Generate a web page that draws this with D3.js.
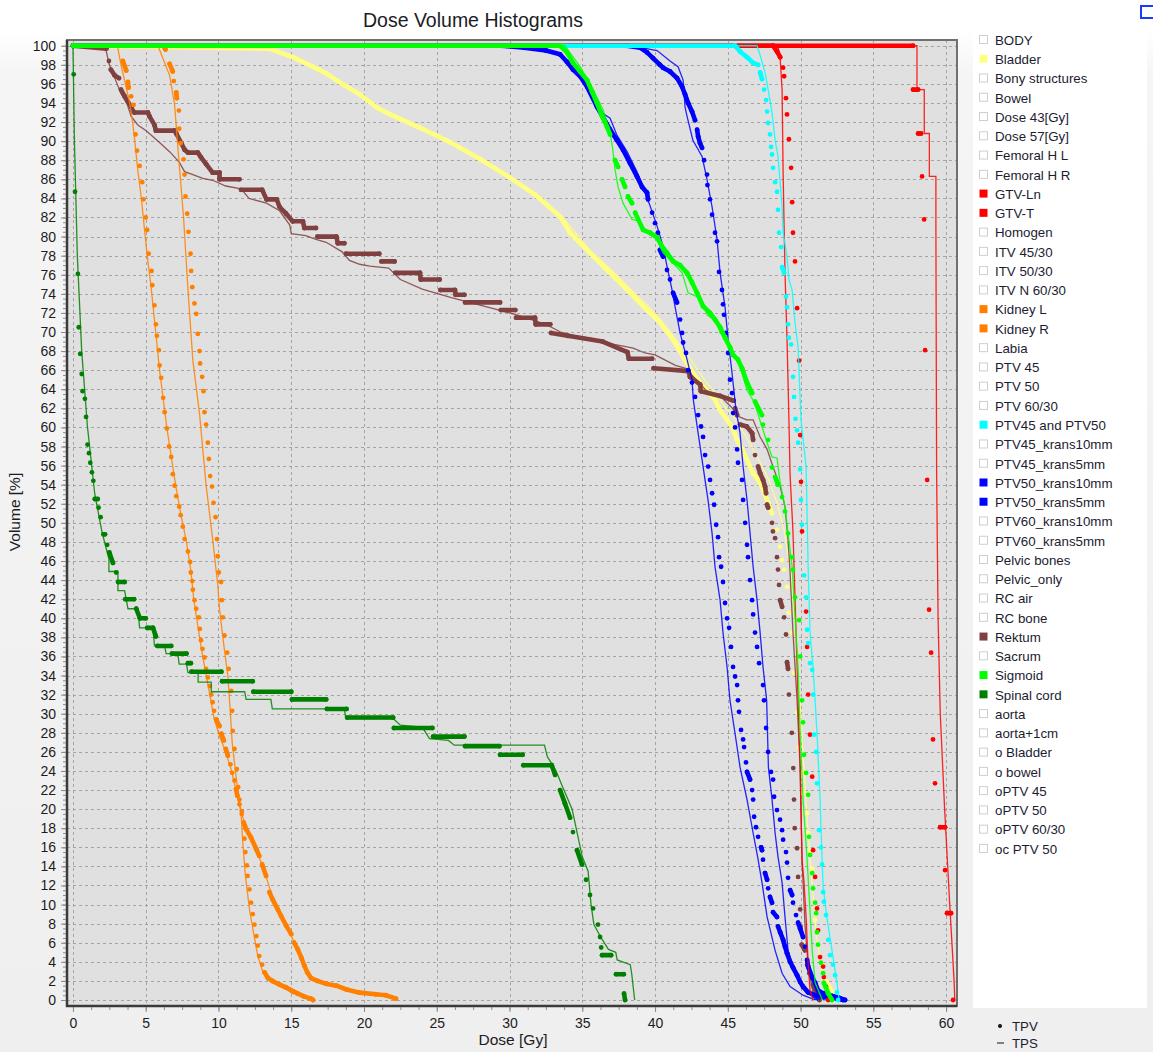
<!DOCTYPE html>
<html>
<head>
<meta charset="utf-8">
<script src="https://cdn.jsdelivr.net/npm/d3@7"></script>
<style>
body { margin: 0; background: #f0f0f0; }
svg { display: block; font-family: "Liberation Sans", Arial, sans-serif; }
</style>
</head>
<body>
<div id="graph"></div>
<script>
// dose [Gy], volume [%] pairs
// TPV = dots, TPS = thin line
var bladderTPV = [[0,100],[13.5,99.7],[15.1,98.8],[16.5,97.8],[17.4,97.1],[18.6,95.9],[19.7,94.9],[20.9,93.5],[21.8,92.8],[23.85,91.4],[25.9,89.9],[28,88.1],[30,86.2],[31.75,84.4],[33.47,82.1],[34.16,80.4],[35.53,78.3],[36.9,76.2],[38.3,74.1],[39.45,72.3],[40.34,71],[41.24,69.2],[41.93,67.4],[42.6,65.7],[43.3,64.3],[44.12,62.9],[44.47,61.8],[44.95,60.8],[45.3,60],[45.64,58.7],[45.98,57.7],[46.32,56.6],[46.74,55.2],[47.22,54.2],[47.7,52.4],[48.04,51],[48.38,49.3],[48.6,47.5],[48.73,46.1],[48.87,45.1],[49.07,43.3],[49.2,40.6],[49.4,38.5],[49.55,34.3],[49.76,30.1],[49.9,26.5],[50.1,23.8],[50.17,21.7],[50.45,19.6],[50.52,17.5],[50.65,15.6],[50.8,13.8],[51.0,8.4],[51.2,5.8],[51.5,3.7],[51.8,1.9],[52.2,0.7],[52.23,0]];
var bladderTPS = [[0,100],[13,100],[15,99],[17,97.6],[19,95.6],[21,93.6],[22,92.8],[24,91.3],[26,89.8],[28,88.1],[30,86.2],[32,84.2],[33.5,82.3],[35.5,78.6],[37,76.5],[38.5,74.2],[40,72],[41.3,69.5],[42.5,67],[43.5,64.8],[44.5,62.8],[45.4,61],[46.2,59.2],[47,57],[47.8,54.6],[48.4,52],[48.9,49],[49.3,45],[49.6,40],[49.9,33],[50.2,25],[50.5,18],[50.8,12],[51.1,6.5],[51.5,3],[52,0.8],[52.3,0]];

var rektumTPV = [[0,100],[2.3,99.7],[2.47,98.4],[2.6,97.5],[2.86,96.9],[3.16,96.6],[3.3,95.4],[3.55,94.7],[3.78,94.1],[4.0,93.6],[4.1,93.2],[4.23,93],[5.15,93],[5.26,92.6],[5.6,91.7],[5.7,91.1],[6.98,91.1],[7.1,90.8],[7.44,89.8],[7.67,89.1],[7.9,88.8],[8.58,88.8],[8.8,88.3],[9.15,87.6],[9.6,86.7],[10.07,86.7],[10.07,86.0],[11.44,86.0],[11.55,84.9],[13.0,84.9],[13.3,83.9],[14.0,83.9],[14.2,83.1],[14.65,82.4],[15.1,81.6],[15.8,81.6],[15.9,80.9],[16.7,80.9],[16.8,80.0],[18.1,80.0],[18.2,79.3],[18.65,79.3],[18.76,78.2],[21.05,78.2],[21.2,77.4],[22.1,77.4],[22.15,76.2],[23.85,76.2],[23.9,75.5],[25.2,75.5],[25.25,74.4],[26.25,74.4],[26.3,73.9],[26.9,73.9],[26.95,73.1],[29.35,73.1],[29.4,72.3],[30.4,72.3],[30.45,71.5],[31.75,71.5],[31.8,70.8],[32.8,70.8],[32.85,69.9],[34.0,69.6],[36.4,69.0],[38.1,67.9],[38.2,67.2],[39.8,67.2],[39.9,66.2],[42.3,65.9],[42.4,65.3],[43.1,64.5],[43.15,63.8],[44.47,63.3],[45.4,62.8],[45.5,62.0],[45.64,61.3],[45.84,60.3],[46.3,60.1],[46.67,59.4],[46.74,58.7],[46.87,57.1],[47.08,55.9],[47.22,55.2],[47.42,54.5],[47.56,53.8],[47.63,53.1],[47.7,51.9],[47.77,51.6],[48.04,50],[48.1,49.1],[48.25,48.4],[48.38,46.4],[48.45,45.1],[48.52,43.5],[48.6,41.9],[48.73,41.2],[48.87,40.1],[49.0,38.3],[49.07,35.4],[49.14,34.7],[49.2,32],[49.4,28],[49.5,24.3],[49.55,21],[49.6,18],[49.76,15.9],[49.83,12.9],[49.97,9.5],[50.0,7.7],[50.08,5.8],[50.3,5.2],[50.45,3.7],[50.6,2.8],[50.86,1.6],[51.2,0.3],[51.3,0]];
var rektumTPS = [[0,100],[2.2,100],[2.5,98],[2.9,96.5],[3.3,95],[3.7,94],[4.0,92.6],[4.46,91.7],[5.03,91.1],[5.7,90.2],[6.64,88.9],[7.3,87.8],[7.67,86.8],[8.24,86.5],[8.92,86.1],[9.6,85.9],[10.5,85.3],[11.55,85.0],[12.1,84.0],[13.3,83.5],[14.2,82.7],[14.9,81.2],[15.0,80.3],[16.0,80.1],[16.7,79.7],[17.4,79.4],[18.5,78.4],[19.0,77.5],[19.7,77.1],[20.4,76.9],[21.7,76.7],[22.5,75.5],[24,74.5],[26,73.6],[28.5,72.6],[30.5,71.8],[32.5,70.8],[33.5,70],[34.5,69.6],[35.7,69.3],[37.2,68.7],[38.5,68.3],[39.3,67.8],[40.0,67.6],[41.4,66.5],[42.1,66.2],[42.4,65.7],[43.5,63.9],[44.6,63.1],[45.2,62.2],[45.8,61.1],[46.3,60.8],[46.74,60.8],[47.22,59],[47.7,57.7],[48.1,55.9],[48.6,53.8],[48.93,51.7],[49.14,48.2],[49.28,44.8],[49.48,38.5],[49.76,31.4],[49.97,24.4],[50.1,14.7],[50.3,8],[50.5,4],[50.75,1.5],[51.0,0]];

var kidneyLTPV = [[0,100],[3.2,100],[3.43,98.4],[3.66,97.4],[3.78,96.2],[3.82,95.6],[4.0,94.7],[4.16,93.8],[4.3,90.7],[4.4,89],[4.58,87.4],[4.76,85.7],[4.85,83.9],[5.0,82],[5.1,80.7],[5.2,78.2],[5.4,76.4],[5.45,74.9],[5.6,72.8],[5.7,70.8],[5.77,69.6],[5.9,68.1],[5.95,66.5],[6.06,65.2],[6.2,63.1],[6.3,61.6],[6.45,59.9],[6.6,58],[6.75,56.9],[6.86,55.1],[6.98,53.9],[7.1,52.8],[7.3,51.7],[7.4,50.8],[7.55,49.6],[7.67,48.3],[7.9,47],[8.05,45.9],[8.1,44.8],[8.2,43.9],[8.24,43],[8.35,41.9],[8.47,41],[8.65,40.1],[8.72,38.9],[8.8,37.7],[8.9,36.8],[9.04,35.9],[9.15,34.7],[9.27,33.8],[9.4,32.9],[9.5,32],[9.6,31.2],[9.7,30.3],[9.84,29.4],[10.07,28.7],[10.2,27.9],[10.37,27.2],[10.5,26.3],[10.64,25.6],[10.82,24.7],[10.94,23.8],[11.1,23],[11.2,22.1],[11.3,21.4],[11.44,20.5],[11.6,19.5],[11.8,18.3],[11.9,17.9],[12.24,17],[12.6,15.8],[12.8,15.1],[13.0,14.2],[13.27,13.0],[13.5,11.3],[13.7,10.6],[14.07,9.5],[14.3,8.8],[14.65,7.8],[15.0,6.9],[15.2,6.0],[15.45,5.3],[15.7,4.4],[15.9,3.6],[16.1,2.9],[16.36,2.3],[16.8,2.0],[17.4,1.7],[18.1,1.5],[18.8,1.1],[19.7,0.77],[20.8,0.6],[21.5,0.5],[22.2,0.14]];
var kidneyLTPS = [[0,100],[3.05,100],[3.3,98],[3.6,96],[3.9,94],[4.1,92],[4.25,90],[4.45,87],[4.7,84],[4.9,81],[5.1,78],[5.35,75],[5.55,72],[5.75,69],[5.95,66],[6.2,63],[6.45,60],[6.75,57],[7.05,54],[7.4,51],[7.8,48],[8.1,45],[8.3,42],[8.55,39.5],[8.8,37],[9.1,34.5],[9.4,32],[9.7,29.5],[10.1,27.5],[10.5,26],[10.9,24],[11.2,22],[11.5,20],[11.8,18.5],[12.3,16.8],[12.7,15.3],[13.1,13.8],[13.5,11.8],[13.9,10],[14.4,8.5],[14.9,7],[15.4,5.5],[15.8,4],[16.2,2.7],[16.6,2.1],[17.5,1.6],[18.5,1.2],[19.7,0.8],[21,0.55],[22.1,0.1]];

var kidneyRTPV = [[0,100],[6.2,100],[6.36,99.6],[6.64,98.1],[6.86,97.3],[6.93,96.3],[7.1,95.1],[7.14,94.5],[7.28,93.2],[7.3,91.3],[7.4,89.8],[7.6,88.1],[7.67,86.5],[7.73,84.2],[7.85,82.4],[7.94,80.5],[8.08,78.2],[8.12,76.4],[8.2,74.7],[8.35,73],[8.47,71.9],[8.58,69.8],[8.7,68],[8.74,66.7],[8.88,65.3],[8.97,63.8],[9.04,61.6],[9.15,60.3],[9.27,58.4],[9.34,56.7],[9.43,54.9],[9.56,53.8],[9.66,52.1],[9.8,50.6],[9.9,48.3],[9.95,46.5],[10.02,44.8],[10.18,43.8],[10.23,41.9],[10.3,40.1],[10.41,38.2],[10.6,36.4],[10.7,34.7],[10.87,32.4],[10.94,30.3],[10.98,28.2],[11.1,26.3],[11.26,24.2],[11.35,22.3],[11.44,21.0],[11.6,19.8],[11.74,18.6],[11.78,16.9],[11.85,15.5],[11.95,14.1],[12.0,13.0],[12.13,11.6],[12.24,10.2],[12.36,9.0],[12.47,7.9],[12.6,6.7],[12.7,5.7],[12.8,4.6],[13.0,3.7],[13.16,2.9],[13.4,2.3],[13.7,2.0],[14.2,1.6],[14.65,1.3],[15.1,0.9],[15.45,0.66],[15.9,0.35],[16.36,0.14],[16.5,0]];
var kidneyRTPS = [[0,100],[5.84,100],[6.64,96.9],[6.98,93.9],[7.2,89.5],[7.6,82],[7.9,74.5],[8.24,67],[8.7,61.4],[9.15,53.9],[9.6,48.3],[9.95,43.5],[10.07,41],[10.34,37.5],[10.64,34],[10.8,30.5],[10.94,27],[11.2,23.5],[11.55,19.6],[11.67,16.5],[11.85,13],[12.13,9.5],[12.4,7.1],[12.7,4.6],[13.04,3.0],[13.5,2.2],[14.65,1.5],[15.56,0.77],[16.48,0.07]];

var spinalTPV = [[0,100],[0.05,97],[0.14,84.7],[0.34,76.1],[0.4,70.5],[0.5,67.7],[0.6,65.6],[0.66,63.8],[0.82,63],[0.9,61.1],[1.0,58.2],[1.1,57.3],[1.19,56.3],[1.3,55.3],[1.4,54.4],[1.5,52.5],[1.7,52.5],[1.76,51.6],[1.9,50.6],[2.1,48.8],[2.2,48.8],[2.35,47.7],[2.5,46.9],[2.75,45.8],[2.97,44.8],[3.1,43.8],[3.55,43.8],[3.6,42],[4.2,42],[4.35,41],[4.6,40],[5.0,40],[5.1,39],[5.5,39],[5.7,38.1],[5.8,37.1],[6.75,37.1],[6.8,36.3],[7.8,36.3],[7.9,35.3],[8.1,35.3],[8.15,34.4],[10.2,34.4],[10.25,33.4],[12.35,33.4],[12.4,32.3],[15.0,32.3],[15.05,31.5],[17.4,31.5],[17.45,30.5],[18.8,30.5],[18.85,29.6],[22.0,29.6],[22.05,28.5],[24.7,28.5],[24.75,27.6],[26.9,27.6],[26.95,26.6],[29.3,26.6],[29.35,25.7],[30.9,25.7],[30.95,24.6],[32.9,24.6],[33.13,23.6],[33.47,22],[33.81,20.6],[34.16,19.1],[34.36,17.6],[34.64,15.7],[34.98,14.2],[35.26,12.6],[35.53,11],[35.74,9.6],[36.08,7.9],[36.22,6.6],[36.3,5.5],[36.36,4.7],[36.98,4.7],[37.32,2.7],[37.85,2.7],[37.87,0.67],[37.94,0]];
var spinalTPS = [[0,100],[0.1,90],[0.3,78],[0.6,68],[1.0,60],[1.5,53],[2.0,49],[2.47,46.2],[2.47,44.9],[3.09,44.9],[3.09,42.9],[3.55,42.9],[3.78,41],[4.46,41],[4.58,39],[5.5,39],[5.6,37.1],[6.3,37.1],[6.4,36.3],[7.2,36.3],[7.3,35.2],[7.8,35.2],[7.9,34.3],[8.6,34.3],[8.6,33.3],[9.5,33.3],[9.5,32.3],[11.8,32.3],[11.9,31.5],[13.6,31.5],[13.7,30.5],[18.65,30.5],[18.75,29.5],[22,29.5],[22.5,28.8],[24,28.6],[24.5,27.4],[25.8,27.2],[26.2,26.7],[32.4,26.7],[32.6,25.5],[33.2,24],[33.6,22.5],[34.3,20],[35.0,15],[35.4,13.5],[35.6,10],[35.8,7.9],[36.3,6.5],[36.8,5.3],[37.3,5.0],[37.4,4.2],[38.3,3.7],[38.4,2.7],[38.6,0]];

var ptv50k10TPV = [[0,100],[29.5,100],[31,99.8],[32.5,99.5],[33.47,99.1],[33.95,98.3],[34.36,97.5],[34.85,96.8],[35.33,95.7],[36.01,93.6],[36.43,92.5],[36.91,91.2],[37.39,90.1],[37.8,89.1],[38.28,87.7],[38.76,86.3],[39.11,85.2],[39.45,84.6],[39.52,83.9],[39.8,82.5],[40.0,81.4],[40.2,80.4],[40.34,78.6],[40.55,77.9],[40.82,76.5],[41.03,75.5],[41.24,74.1],[41.51,73.1],[41.72,71.3],[41.86,69.9],[41.93,68.9],[42.13,67.8],[42.27,66],[42.54,64.7],[42.75,63.2],[42.96,61.3],[43.16,60.1],[43.3,59],[43.44,57.1],[43.65,55.9],[43.78,54.5],[43.92,53.1],[44.06,51.9],[44.2,49.8],[44.33,48.5],[44.4,46.4],[44.54,45.4],[44.67,43.8],[44.81,41.6],[44.95,40],[45.09,39],[45.22,37],[45.36,34.9],[45.5,33.9],[45.64,33],[45.7,31.4],[45.77,30.2],[45.91,28.3],[46.05,27.3],[46.12,26.5],[46.25,24.9],[46.32,23.9],[46.53,23.1],[46.67,22],[46.74,21],[46.81,19.2],[46.94,18.1],[47.08,17.1],[47.29,16],[47.35,15.7],[47.42,14.7],[47.56,13.3],[47.7,12.6],[47.77,11.7],[47.9,10.8],[48.04,10.2],[48.11,9.2],[48.38,8.7],[48.45,7.7],[48.6,7.1],[48.8,6.3],[48.93,5.6],[49.07,4.9],[49.28,4],[49.48,3.4],[49.76,2.6],[49.97,1.9],[50.17,1.4],[50.52,0.8],[51.0,0.5],[51.55,0.3],[52.23,0.2],[52.92,0]];
var ptv50k10TPS = [[0,100],[29,100],[31,99.8],[33,99.4],[34.85,97.3],[35.74,94.8],[36.43,92.9],[36.91,92.4],[37.39,90.6],[38.08,88.9],[38.76,86.8],[39.18,85.2],[39.66,83.2],[40.14,81.1],[40.55,79],[40.82,76.9],[41.17,74.4],[41.38,72.6],[41.72,69.9],[42.2,67.1],[42.54,65],[42.63,62.9],[42.96,59.4],[43.3,55.9],[43.64,52.4],[43.92,48.9],[44.12,45.4],[44.47,41.9],[44.67,38.5],[44.95,34.9],[45.15,31.4],[45.5,27.9],[45.84,24.4],[46.32,21],[46.74,17.5],[47.05,15],[47.35,12.3],[47.7,8.7],[48.25,5.2],[48.73,2.8],[49.28,1.4],[50.17,0.5],[50.86,0.1],[51.2,0]];

var ptv50k5TPV = [[0,100],[38.08,100],[38.97,99.8],[39.45,99.3],[39.86,98.7],[40.34,98],[40.55,97.7],[41.03,97.3],[41.51,96.6],[41.86,95.7],[42.06,94.9],[42.27,94],[42.54,93.1],[42.75,92.2],[42.89,91.2],[42.96,90.5],[43.09,89.8],[43.23,89.3],[43.37,88],[43.57,86.5],[43.6,85.4],[43.78,83.9],[43.92,82.3],[44.12,80.4],[44.26,79.5],[44.4,76.3],[44.6,74.4],[44.67,72.9],[44.74,71.8],[44.88,69.9],[45.02,67.8],[45.15,65],[45.29,63.6],[45.36,61.5],[45.5,60],[45.64,57.7],[45.7,56.3],[45.98,54.5],[46.05,52.4],[46.19,50],[46.32,47.7],[46.39,46.4],[46.53,44],[46.67,41.9],[46.74,40.4],[46.87,38.5],[47.01,37],[47.15,35.3],[47.42,33],[47.49,31.4],[47.63,28.5],[47.77,26],[47.97,23.9],[48.11,23.1],[48.18,21.3],[48.38,19.9],[48.59,18.9],[48.73,17.8],[48.8,16.8],[49.0,15.5],[49.07,14.4],[49.14,12.8],[49.28,11.5],[49.42,11],[49.48,10.2],[49.69,8.9],[49.83,8.1],[49.97,7.5],[50.17,6.6],[50.31,5.6],[50.45,4.2],[50.52,3.5],[50.79,2.4],[51.0,1.8],[51.2,1],[51.55,0.7],[52.23,0.4],[52.7,0.2],[53.06,0]];
var ptv50k5TPS = [[0,100],[38.3,100],[40.14,99.5],[41.03,98.4],[41.58,97.8],[41.93,96.4],[42.06,93.6],[42.2,92.6],[42.6,90.1],[43.23,88.4],[43.57,86],[43.92,83.1],[44.26,79.7],[44.47,76.2],[44.81,72.6],[45.02,69.2],[45.29,65.7],[45.55,62],[45.84,59.4],[46.05,55.9],[46.32,52.4],[46.53,48.9],[46.74,45.4],[47.01,41.9],[47.22,38.5],[47.42,34.9],[47.67,31.4],[47.79,24.4],[48.04,21],[48.25,17.5],[48.45,15],[48.73,12.3],[48.93,8.7],[49.14,5.2],[49.62,2.8],[50.17,1.4],[50.86,0.3],[51.34,0]];

var gtvLnTPV = [[0,100],[48.11,100],[48.38,99.4],[48.6,98.8],[48.8,97.7],[48.87,96.8],[49.0,94.5],[49.07,92.8],[49.2,90.2],[49.35,87.2],[49.42,83.6],[49.48,80.4],[49.62,77.4],[49.76,72.5],[49.9,67],[49.97,59.2],[50.03,54.3],[50.1,49.1],[50.38,40.7],[50.45,37],[50.52,32],[50.65,27.8],[50.8,23.4],[50.86,15.7],[51.0,12.9],[51.13,9.6],[51.2,7.3],[51.34,4.5],[51.55,3.5],[51.6,2.4],[51.75,1.4],[51.9,0]];
var gtvLnTPS = [[0,100],[48.45,100],[48.6,98.6],[48.73,95.4],[48.8,86.7],[48.93,76.2],[49.07,69.2],[49.2,60.8],[49.28,55],[49.48,49],[49.76,35],[49.97,24.4],[50.1,14.7],[50.24,12.3],[50.38,8.7],[50.52,3.9],[50.65,1],[50.86,0]];

var gtvTTPV = [[0,100],[57.73,100],[57.73,95.4],[58.08,95.4],[58.08,90.8],[58.28,90.8],[58.35,86.3],[58.49,81.8],[58.56,68.1],[58.7,54.5],[58.83,40.9],[58.97,36.4],[59.1,27.3],[59.24,22.7],[59.59,18.1],[59.93,18.1],[59.93,13.6],[60.07,9.1],[60.34,9.1],[60.48,0]];
var gtvTTPS = [[0,100],[58.0,100],[58.0,95.4],[58.5,95.4],[58.5,90.8],[58.85,90.8],[58.85,86.3],[59.3,86.3],[59.3,80.7],[59.35,55],[59.45,40],[59.6,30],[59.9,20],[60.25,10],[60.55,2],[60.6,0]];

var ptv4550TPV = [[0,100],[45.5,100],[45.84,99.4],[46.32,98.8],[46.74,98.2],[47.08,98],[47.22,97.2],[47.35,96.5],[47.49,95.4],[47.63,94.3],[47.7,93.1],[47.77,91.9],[47.9,90.7],[47.97,89.4],[48.04,88.6],[48.11,87.2],[48.25,85.7],[48.38,84.7],[48.45,82.8],[48.52,80.4],[48.66,78.9],[48.73,76.8],[48.87,76.2],[49.0,73.7],[49.07,72.6],[49.14,70.8],[49.2,69.4],[49.35,68.7],[49.48,65.3],[49.55,63.2],[49.65,60.9],[49.76,59.7],[49.83,58.4],[49.97,55.6],[50.03,52.4],[50.1,49.8],[50.24,44.5],[50.38,42.2],[50.45,38.8],[50.52,37.4],[50.65,35.3],[50.8,34.6],[50.86,32],[50.93,27.8],[51.07,26],[51.13,22.7],[51.27,17.8],[51.4,16],[51.48,14.2],[51.55,11.3],[51.6,10.3],[51.75,8.9],[51.9,6.3],[52.03,4.7],[52.23,3.7],[52.37,2.6],[52.5,0.8],[52.58,0]];
var ptv4550TPS = [[0,100],[47.01,100],[47.22,99],[47.56,97.2],[47.77,95.4],[48.04,93],[48.25,90.1],[48.45,88.4],[48.73,83.1],[48.8,80.4],[49.07,77.9],[49.2,75.5],[49.42,74.4],[49.62,71],[49.83,68.4],[49.9,65.7],[50.03,60.8],[50.38,55.9],[50.52,45.4],[50.65,38.5],[50.86,34.9],[51.13,28],[51.34,21],[51.48,14.7],[51.55,12],[51.8,8.7],[52.16,5.2],[52.5,1.8],[52.65,0]];

var sigmoidTPV = [[0,100],[33.47,100],[33.95,99.3],[34.36,98.2],[34.85,97.3],[35.33,96.4],[35.67,95.2],[36.01,94],[36.36,92.6],[36.7,91.5],[36.91,90.7],[37.25,88],[37.46,87.3],[37.73,86],[37.94,85.2],[38.14,84.2],[38.42,83.5],[38.63,82.5],[39.18,80.7],[39.66,80.4],[40.14,79.9],[40.55,78.8],[40.82,78.3],[41.24,77.4],[41.72,77],[42.2,76.2],[42.54,75.2],[42.89,74.1],[43.3,72.7],[43.78,72],[44.12,71.3],[44.47,70.5],[44.81,69.4],[45.15,68.4],[45.36,67.6],[45.7,67.1],[45.98,66.2],[46.32,64.7],[46.67,63.6],[46.87,62.7],[47.35,61.3],[47.42,60.3],[47.77,58.7],[48.04,55.8],[48.25,54.8],[48.45,54],[48.73,52.7],[48.93,51.2],[49.14,48.9],[49.42,46.4],[49.48,45.1],[49.62,42.2],[49.9,39.8],[49.97,36],[50.1,31.4],[50.17,29.1],[50.24,25.7],[50.38,23.8],[50.52,21.5],[50.58,17.1],[50.65,15.2],[50.8,13.3],[50.86,11.7],[51.0,10.2],[51.07,9.1],[51.13,7.1],[51.2,5.8],[51.4,3.9],[51.55,2.8],[51.6,1.8],[51.9,0.7],[52.16,0]];
var sigmoidTPS = [[0,100],[33.8,100],[34.85,97.8],[35.74,95.4],[36.43,93.3],[36.91,90.9],[37.1,89.1],[37.25,87],[37.46,85.2],[37.8,83.5],[38.42,81.8],[38.97,81.6],[39.3,80.7],[40.14,79.7],[40.55,78.3],[41.5,76.8],[41.86,76.2],[42.27,74.1],[42.89,73.7],[43.3,73.0],[43.58,71.8],[44.26,71],[44.47,69.9],[44.95,69.2],[45.3,68.1],[45.64,67.1],[45.98,65.7],[46.32,63.9],[46.8,62.7],[47.7,58.4],[48.04,56.9],[48.38,56.8],[48.6,54.2],[48.93,51.7],[49.14,48.9],[49.42,45.4],[49.62,40.1],[49.83,34.9],[49.97,28],[50.17,21],[50.45,14.7],[50.8,5.2],[51.0,1.8],[51.5,0]];

var legendNames = ["BODY","Bladder","Bony structures","Bowel","Dose 43[Gy]","Dose 57[Gy]","Femoral H L","Femoral H R","GTV-Ln","GTV-T","Homogen","ITV 45/30","ITV 50/30","ITV N 60/30","Kidney L","Kidney R","Labia","PTV 45","PTV 50","PTV 60/30","PTV45 and PTV50","PTV45_krans10mm","PTV45_krans5mm","PTV50_krans10mm","PTV50_krans5mm","PTV60_krans10mm","PTV60_krans5mm","Pelvic bones","Pelvic_only","RC air","RC bone","Rektum","Sacrum","Sigmoid","Spinal cord","aorta","aorta+1cm","o Bladder","o bowel","oPTV 45","oPTV 50","oPTV 60/30","oc PTV 50"];

var structColors = {
    "Bladder": "#ffff80",
    "GTV-Ln": "#ff0000",
    "GTV-T": "#ff0000",
    "Kidney L": "#ff8000",
    "Kidney R": "#ff8000",
    "PTV45 and PTV50": "#00ffff",
    "PTV50_krans10mm": "#0000ff",
    "PTV50_krans5mm": "#0000ff",
    "Rektum": "#804040",
    "Sigmoid": "#00ff00",
    "Spinal cord": "#008000"
};

var xTicks = d3.range(0, 61, 5);
var yTicks = d3.range(0, 101, 2);

// bottom to top drawing order
var series = [
    {name: "Bladder", tpv: bladderTPV, tps: bladderTPS},
    {name: "Rektum", tpv: rektumTPV, tps: rektumTPS},
    {name: "Kidney L", tpv: kidneyLTPV, tps: kidneyLTPS},
    {name: "Kidney R", tpv: kidneyRTPV, tps: kidneyRTPS},
    {name: "Spinal cord", tpv: spinalTPV, tps: spinalTPS},
    {name: "PTV50_krans10mm", tpv: ptv50k10TPV, tps: ptv50k10TPS},
    {name: "PTV50_krans5mm", tpv: ptv50k5TPV, tps: ptv50k5TPS},
    {name: "GTV-Ln", tpv: gtvLnTPV, tps: gtvLnTPS},
    {name: "GTV-T", tpv: gtvTTPV, tps: gtvTTPS},
    {name: "PTV45 and PTV50", tpv: ptv4550TPV, tps: ptv4550TPS},
    {name: "Sigmoid", tpv: sigmoidTPV, tps: sigmoidTPS}
];

init();

function init() {
    var w = 1153, h = 1052;
    var left = 67, top = 40, right = 957, bottom = 1006;
    var font = "'Liberation Sans', Arial, sans-serif";

    var vis = d3.select("#graph")
        .append("svg")
        .attr("width", w)
        .attr("height", h);

    var defs = vis.append("defs");
    var grad = defs.append("linearGradient")
        .attr("id", "bg")
        .attr("x1", 0).attr("y1", 0).attr("x2", 0).attr("y2", 1);
    grad.append("stop").attr("offset", "0").attr("stop-color", "#ffffff");
    grad.append("stop").attr("offset", "0.03").attr("stop-color", "#ffffff");
    grad.append("stop").attr("offset", "0.07").attr("stop-color", "#f5f5f5");
    grad.append("stop").attr("offset", "1").attr("stop-color", "#efefef");

    defs.append("clipPath")
        .attr("id", "clip")
        .append("rect")
        .attr("x", left).attr("y", top)
        .attr("width", right - left).attr("height", bottom - top);

    vis.append("rect")
        .attr("width", w).attr("height", h)
        .attr("fill", "url(#bg)");

    var x = d3.scaleLinear().domain([-0.41, 60.75]).range([left, right]);
    var y = d3.scaleLinear().domain([-0.63, 100.6]).range([bottom, top]);

    // plot background
    vis.append("rect")
        .attr("x", left).attr("y", top)
        .attr("width", right - left).attr("height", bottom - top)
        .attr("fill", "#e0e0e0");

    // grid
    var grid = vis.append("g")
        .attr("stroke", "#a4a4a4")
        .attr("stroke-width", 1)
        .attr("stroke-dasharray", "3,3");
    grid.selectAll(".gx")
        .data(xTicks)
        .enter()
        .append("line")
        .attr("x1", function(d) { return Math.round(x(d)) + 0.5; })
        .attr("x2", function(d) { return Math.round(x(d)) + 0.5; })
        .attr("y1", top)
        .attr("y2", bottom);
    grid.selectAll(".gy")
        .data(yTicks)
        .enter()
        .append("line")
        .attr("x1", left)
        .attr("x2", right)
        .attr("y1", function(d) { return Math.round(y(d)) + 0.5; })
        .attr("y2", function(d) { return Math.round(y(d)) + 0.5; });

    // curves
    var plot = vis.append("g").attr("clip-path", "url(#clip)");
    var line = d3.line()
        .x(function(d) { return x(d[0]); })
        .y(function(d) { return y(d[1]); });

    series.forEach(function(s) {
        var c = structColors[s.name];
        var g = plot.append("g").attr("class", "struct");

        g.append("path")
            .attr("d", line(s.tps))
            .attr("fill", "none")
            .attr("stroke", c)
            .attr("stroke-opacity", 0.85)
            .attr("stroke-width", 1.3);

        // neighbouring dots that overlap in the picture are joined as a band
        var runs = [];
        for (var i = 1; i < s.tpv.length; i++) {
            var a = s.tpv[i - 1], b = s.tpv[i];
            var dx = b[0] - a[0];
            var px = Math.hypot(x(b[0]) - x(a[0]), y(b[1]) - y(a[1]));
            if ((dx > 0 && (a[1] - b[1]) / dx < 4.5) || px < 7) runs.push([a, b]);
        }
        g.selectAll(".run")
            .data(runs)
            .enter()
            .append("line")
            .attr("x1", function(d) { return x(d[0][0]); })
            .attr("y1", function(d) { return y(d[0][1]); })
            .attr("x2", function(d) { return x(d[1][0]); })
            .attr("y2", function(d) { return y(d[1][1]); })
            .attr("stroke", c)
            .attr("stroke-width", 4.6)
            .attr("stroke-linecap", "round");

        g.selectAll(".dot")
            .data(s.tpv)
            .enter()
            .append("circle")
            .attr("cx", function(d) { return x(d[0]); })
            .attr("cy", function(d) { return y(d[1]); })
            .attr("r", 2.4)
            .attr("fill", c);
    });

    // frame
    vis.append("rect")
        .attr("x", left).attr("y", top)
        .attr("width", right - left).attr("height", bottom - top)
        .attr("fill", "none")
        .attr("stroke", "#707070")
        .attr("stroke-width", 2);
    vis.append("path")
        .attr("d", "M" + left + "," + top + "V" + bottom + "H" + right)
        .attr("fill", "none")
        .attr("stroke", "#3a3a3a")
        .attr("stroke-width", 2.5);

    // axes
    var xAxis = vis.append("g")
        .attr("transform", "translate(0," + (bottom + 1) + ")")
        .call(d3.axisBottom(x).tickValues(xTicks).tickSize(5).tickPadding(6).tickFormat(d3.format("d")));
    var xMinor = vis.append("g")
        .attr("transform", "translate(0," + (bottom + 1) + ")")
        .call(d3.axisBottom(x).tickValues(d3.range(0, 60.8, 1.25)).tickSize(3).tickFormat(""));
    var yAxis = vis.append("g")
        .attr("transform", "translate(" + (left - 1) + ",0)")
        .call(d3.axisLeft(y).tickValues(yTicks).tickSize(5).tickPadding(5).tickFormat(d3.format("d")));
    var yMinor = vis.append("g")
        .attr("transform", "translate(" + (left - 1) + ",0)")
        .call(d3.axisLeft(y).tickValues(d3.range(0, 100.1, 0.5)).tickSize(3).tickFormat(""));

    [xAxis, xMinor, yAxis, yMinor].forEach(function(a) {
        a.select(".domain").remove();
        a.selectAll(".tick line").attr("stroke", "#8a8a8a");
        a.selectAll("text")
            .attr("fill", "#1c1c24")
            .style("font", "14px " + font);
    });

    // titles
    vis.append("text")
        .attr("x", 473)
        .attr("y", 27)
        .attr("text-anchor", "middle")
        .attr("fill", "#1c1c24")
        .style("font", "19.5px " + font)
        .text("Dose Volume Histograms");
    vis.append("text")
        .attr("x", 513)
        .attr("y", 1045)
        .attr("text-anchor", "middle")
        .attr("fill", "#1c1c24")
        .style("font", "15.5px " + font)
        .text("Dose [Gy]");
    vis.append("text")
        .attr("transform", "translate(20,512) rotate(-90)")
        .attr("text-anchor", "middle")
        .attr("fill", "#1c1c24")
        .style("font", "15.5px " + font)
        .text("Volume [%]");

    // legend panel
    vis.append("rect")
        .attr("x", 973).attr("y", 31)
        .attr("width", 174).attr("height", 977)
        .attr("fill", "#ffffff");

    var item = vis.selectAll(".legend")
        .data(legendNames)
        .enter()
        .append("g")
        .attr("class", "legend")
        .attr("transform", function(d, i) { return "translate(979," + (40 + i * 19.26) + ")"; });
    item.append("rect")
        .attr("x", 0.5).attr("y", -4.5)
        .attr("width", 8).attr("height", 8)
        .attr("fill", function(d) { return structColors[d] || "#ffffff"; })
        .attr("stroke", function(d) { return structColors[d] ? "none" : "#cfcfcf"; });
    item.append("text")
        .attr("x", 16)
        .attr("dy", "0.36em")
        .attr("fill", "#1c1c30")
        .style("font", "13.3px " + font)
        .text(function(d) { return d; });

    // TPV / TPS key
    var key = vis.append("g")
        .attr("fill", "#1c1c30")
        .style("font", "13.3px " + font);
    key.append("circle").attr("cx", 1000).attr("cy", 1026).attr("r", 2).attr("fill", "#111");
    key.append("text").attr("x", 1012).attr("y", 1026).attr("dy", "0.36em").text("TPV");
    key.append("line").attr("x1", 997).attr("x2", 1004).attr("y1", 1043).attr("y2", 1043).attr("stroke", "#111");
    key.append("text").attr("x", 1012).attr("y", 1043).attr("dy", "0.36em").text("TPS");

    // little window icon top right
    vis.append("rect")
        .attr("x", 1141).attr("y", 6)
        .attr("width", 14).attr("height", 12)
        .attr("fill", "#ffffff")
        .attr("stroke", "#1a3cff")
        .attr("stroke-width", 2);
}
</script>
</body>
</html>
